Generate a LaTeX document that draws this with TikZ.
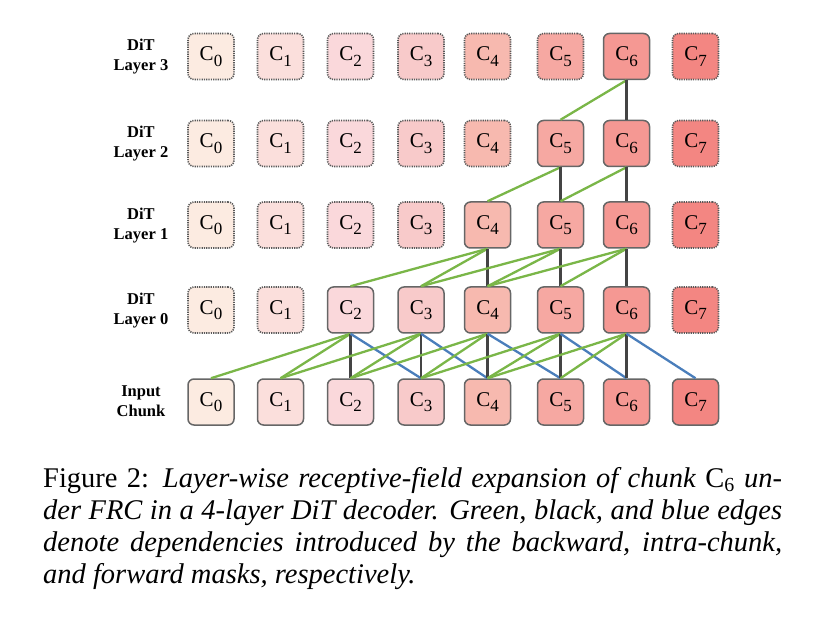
\documentclass[tikz,border=0pt]{standalone}
\usepackage{fontspec}
\setmainfont{Liberation Serif}

\definecolor{col0}{HTML}{FCEBE1}
\definecolor{col1}{HTML}{FBDFDC}
\definecolor{col2}{HTML}{FAD8DB}
\definecolor{col3}{HTML}{F8CACA}
\definecolor{col4}{HTML}{F7B9AF}
\definecolor{col5}{HTML}{F6A8A2}
\definecolor{col6}{HTML}{F59893}
\definecolor{col7}{HTML}{F38682}
\definecolor{backgreen}{HTML}{7AB648}
\definecolor{intragray}{HTML}{444444}
\definecolor{fwdblue}{HTML}{4A7EBB}

\newcommand{\chk}[1]{C\raisebox{-5.5pt}{\fontsize{17}{17}\selectfont #1}}

\tikzset{
    chunk/.style={draw=black!60, line width=1.5pt, rounded corners=6pt,
        minimum width=46pt, minimum height=46pt, inner sep=0pt,
        font=\fontsize{21}{24}\selectfont},
    idle/.style={chunk, draw=black!65, line width=1.6pt, dash pattern=on 1.2pt off 1.1pt},
    layerlabel/.style={align=center, font=\fontsize{16.5}{20}\selectfont\bfseries},
    backedge/.style={draw=backgreen, line width=2.3pt},
    intraedge/.style={draw=intragray, line width=2.3pt},
    fwdedge/.style={draw=fwdblue, line width=2.3pt},
    capline/.style={anchor=base west, inner sep=0pt, font=\fontsize{28.5}{32}\selectfont}
}

\begin{document}
\begin{tikzpicture}[x=1pt, y=-1pt]
        \useasboundingbox (0, 0) rectangle (832, 617);

        % row labels
        \node[layerlabel] (lab3) at (141, 57) {DiT\\Layer 3};
        \node[layerlabel] (lab2) at (141, 144) {DiT\\Layer 2};
        \node[layerlabel] (lab1) at (141, 226) {DiT\\Layer 1};
        \node[layerlabel] (lab0) at (141, 311) {DiT\\Layer 0};
        \node[layerlabel] (labin) at (141, 401) {Input\\Chunk};

        % DiT layer 3
        \node[idle, fill=col0] (l3c0) at (211, 56.5) {\chk{0}};
        \node[idle, fill=col1] (l3c1) at (280.5, 56.5) {\chk{1}};
        \node[idle, fill=col2] (l3c2) at (350.5, 56.5) {\chk{2}};
        \node[idle, fill=col3] (l3c3) at (421, 56.5) {\chk{3}};
        \node[idle, fill=col4] (l3c4) at (487.5, 56.5) {\chk{4}};
        \node[idle, fill=col5] (l3c5) at (560.5, 56.5) {\chk{5}};
        \node[chunk, fill=col6] (l3c6) at (626.5, 56.5) {\chk{6}};
        \node[idle, fill=col7] (l3c7) at (695.5, 56.5) {\chk{7}};

        % DiT layer 2
        \node[idle, fill=col0] (l2c0) at (211, 143.5) {\chk{0}};
        \node[idle, fill=col1] (l2c1) at (280.5, 143.5) {\chk{1}};
        \node[idle, fill=col2] (l2c2) at (350.5, 143.5) {\chk{2}};
        \node[idle, fill=col3] (l2c3) at (421, 143.5) {\chk{3}};
        \node[idle, fill=col4] (l2c4) at (487.5, 143.5) {\chk{4}};
        \node[chunk, fill=col5] (l2c5) at (560.5, 143.5) {\chk{5}};
        \node[chunk, fill=col6] (l2c6) at (626.5, 143.5) {\chk{6}};
        \node[idle, fill=col7] (l2c7) at (695.5, 143.5) {\chk{7}};

        % DiT layer 1
        \node[idle, fill=col0] (l1c0) at (211, 225) {\chk{0}};
        \node[idle, fill=col1] (l1c1) at (280.5, 225) {\chk{1}};
        \node[idle, fill=col2] (l1c2) at (350.5, 225) {\chk{2}};
        \node[idle, fill=col3] (l1c3) at (421, 225) {\chk{3}};
        \node[chunk, fill=col4] (l1c4) at (487.5, 225) {\chk{4}};
        \node[chunk, fill=col5] (l1c5) at (560.5, 225) {\chk{5}};
        \node[chunk, fill=col6] (l1c6) at (626.5, 225) {\chk{6}};
        \node[idle, fill=col7] (l1c7) at (695.5, 225) {\chk{7}};

        % DiT layer 0
        \node[idle, fill=col0] (l0c0) at (211, 310) {\chk{0}};
        \node[idle, fill=col1] (l0c1) at (280.5, 310) {\chk{1}};
        \node[chunk, fill=col2] (l0c2) at (350.5, 310) {\chk{2}};
        \node[chunk, fill=col3] (l0c3) at (421, 310) {\chk{3}};
        \node[chunk, fill=col4] (l0c4) at (487.5, 310) {\chk{4}};
        \node[chunk, fill=col5] (l0c5) at (560.5, 310) {\chk{5}};
        \node[chunk, fill=col6] (l0c6) at (626.5, 310) {\chk{6}};
        \node[idle, fill=col7] (l0c7) at (695.5, 310) {\chk{7}};

        % input chunks
        \node[chunk, fill=col0] (in0) at (211, 402) {\chk{0}};
        \node[chunk, fill=col1] (in1) at (280.5, 402) {\chk{1}};
        \node[chunk, fill=col2] (in2) at (350.5, 402) {\chk{2}};
        \node[chunk, fill=col3] (in3) at (421, 402) {\chk{3}};
        \node[chunk, fill=col4] (in4) at (487.5, 402) {\chk{4}};
        \node[chunk, fill=col5] (in5) at (560.5, 402) {\chk{5}};
        \node[chunk, fill=col6] (in6) at (626.5, 402) {\chk{6}};
        \node[chunk, fill=col7] (in7) at (695.5, 402) {\chk{7}};

        % input -> layer 0
        \draw[backedge] (l0c2.south) -- (in0.north);
        \draw[backedge] (l0c2.south) -- (in1.north);
        \draw[intraedge] (l0c2.south) -- (in2.north);
        \draw[fwdedge] (l0c2.south) -- (in3.north);
        \draw[backedge] (l0c3.south) -- (in1.north);
        \draw[backedge] (l0c3.south) -- (in2.north);
        \draw[intraedge] (l0c3.south) -- (in3.north);
        \draw[fwdedge] (l0c3.south) -- (in4.north);
        \draw[backedge] (l0c4.south) -- (in2.north);
        \draw[backedge] (l0c4.south) -- (in3.north);
        \draw[intraedge] (l0c4.south) -- (in4.north);
        \draw[fwdedge] (l0c4.south) -- (in5.north);
        \draw[backedge] (l0c5.south) -- (in3.north);
        \draw[backedge] (l0c5.south) -- (in4.north);
        \draw[intraedge] (l0c5.south) -- (in5.north);
        \draw[fwdedge] (l0c5.south) -- (in6.north);
        \draw[backedge] (l0c6.south) -- (in4.north);
        \draw[backedge] (l0c6.south) -- (in5.north);
        \draw[intraedge] (l0c6.south) -- (in6.north);
        \draw[fwdedge] (l0c6.south) -- (in7.north);

        % layer 0 -> layer 1
        \draw[backedge] (l1c4.south) -- (l0c2.north);
        \draw[backedge] (l1c4.south) -- (l0c3.north);
        \draw[intraedge] (l1c4.south) -- (l0c4.north);
        \draw[backedge] (l1c5.south) -- (l0c3.north);
        \draw[backedge] (l1c5.south) -- (l0c4.north);
        \draw[intraedge] (l1c5.south) -- (l0c5.north);
        \draw[backedge] (l1c6.south) -- (l0c4.north);
        \draw[backedge] (l1c6.south) -- (l0c5.north);
        \draw[intraedge] (l1c6.south) -- (l0c6.north);

        % layer 1 -> layer 2
        \draw[backedge] (l2c5.south) -- (l1c4.north);
        \draw[intraedge] (l2c5.south) -- (l1c5.north);
        \draw[backedge] (l2c6.south) -- (l1c5.north);
        \draw[intraedge] (l2c6.south) -- (l1c6.north);

        % layer 2 -> layer 3
        \draw[backedge] (l3c6.south) -- (l2c5.north);
        \draw[intraedge] (l3c6.south) -- (l2c6.north);

        % caption
        \node[capline] (cap1) at (43, 487) {\makebox[739pt][s]{Figure 2: \textit{Layer-wise receptive-field expansion of chunk} C\textsubscript{6} \textit{un-}}};
        \node[capline] (cap2) at (43, 519) {\makebox[739pt][s]{\textit{der FRC in a 4-layer DiT decoder. Green, black, and blue edges}}};
        \node[capline] (cap3) at (43, 551) {\makebox[739pt][s]{\textit{denote dependencies introduced by the backward, intra-chunk,}}};
        \node[capline] (cap4) at (43, 583) {\textit{and forward masks, respectively.}};
\end{tikzpicture}
\end{document}
